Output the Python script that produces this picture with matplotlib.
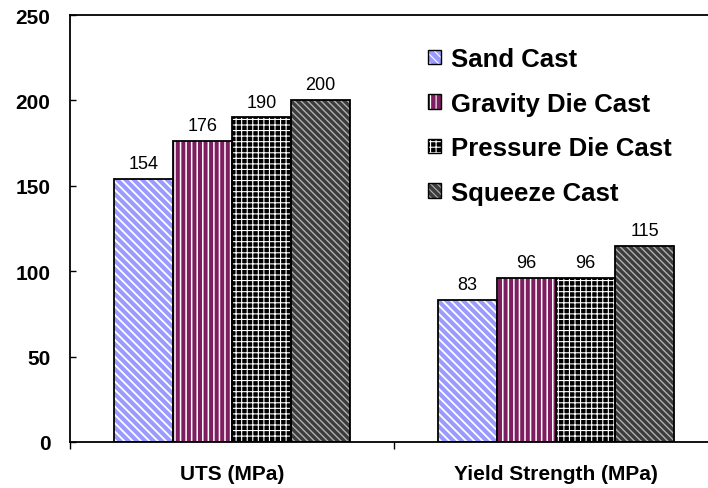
import matplotlib
matplotlib.use("Agg")
import matplotlib.pyplot as plt
import numpy as np
from matplotlib.patches import Patch

categories = ["UTS (MPa)", "Yield Strength (MPa)"]
series = ["Sand Cast", "Gravity Die Cast", "Pressure Die Cast", "Squeeze Cast"]
sand = [154, 83]
gravity = [176, 96]
pressure = [190, 96]
squeeze = [200, 115]
values = [sand, gravity, pressure, squeeze]
yticks = [0, 50, 100, 150, 200, 250]

faces = ["#9A9AFF", "#7E1E60", "#000000", "#3C3C3C"]
hatch_colors = ["#FFFFFF", "#FFFFFF", "#FFFFFF", "#B0B0B0"]
hatches = ["\\\\\\\\", "|||", "+++", "\\\\\\\\\\"]
hatch_lws = [1.3, 1.1, 0.8, 1.0]

plt.rcParams['font.family'] = ['Liberation Sans', 'DejaVu Sans']

fig = plt.figure(figsize=(7.08, 4.89), dpi=100)
ax = fig.add_axes([70/708, 46/489, 648/708, 427/489])

x = np.arange(len(categories))
n = len(series)
bw = 0.73 / n
for i in range(n):
    plt.rcParams['hatch.linewidth'] = hatch_lws[i]
    pos = x + (i - (n - 1) / 2) * bw
    ax.bar(pos, values[i], bw, color=faces[i], edgecolor=hatch_colors[i],
           hatch=hatches[i], linewidth=0, zorder=2)
    ax.bar(pos, values[i], bw, fill=False, edgecolor="black", linewidth=1.3,
           zorder=3)
    for p, v in zip(pos, values[i]):
        ax.annotate(str(v), (p, v), xytext=(0, 5), textcoords="offset points",
                    ha="center", va="bottom", fontsize=13)

ax.set_xlim(-0.5, 1.5)
ax.set_ylim(0, 250)
ax.set_yticks(yticks)
ax.set_yticklabels([str(t) for t in yticks], fontsize=15, fontweight="bold")
ax.tick_params(axis="y", direction="in", length=4, width=1, pad=14)
ax.set_xticks(x)
ax.set_xticklabels(categories, fontsize=15, fontweight="bold")
ax.tick_params(axis="x", which="major", length=0, pad=16)
ax.set_xticks([-0.5, 0.5, 1.5], minor=True)
ax.tick_params(axis="x", which="minor", direction="out", length=5, width=1)

for s in ["left", "bottom", "top"]:
    ax.spines[s].set_linewidth(1.3)
ax.spines["right"].set_visible(False)

handles = []
for i in range(n):
    plt.rcParams['hatch.linewidth'] = hatch_lws[i] * 0.8
    hp = Patch(facecolor=faces[i], edgecolor=hatch_colors[i],
               hatch=hatches[i], linewidth=0)
    op = Patch(fill=False, edgecolor="black", linewidth=1.0)
    handles.append((hp, op))
leg = ax.legend(handles, series, loc="upper left",
                bbox_to_anchor=(428/708, 1 - 48/489), bbox_transform=fig.transFigure,
                frameon=False, prop={"weight": "bold", "size": 18.5},
                handlelength=0.5, handleheight=0.5, handletextpad=0.4,
                labelspacing=0.8, borderpad=0, borderaxespad=0)

fig.savefig("out.png", dpi=100)
